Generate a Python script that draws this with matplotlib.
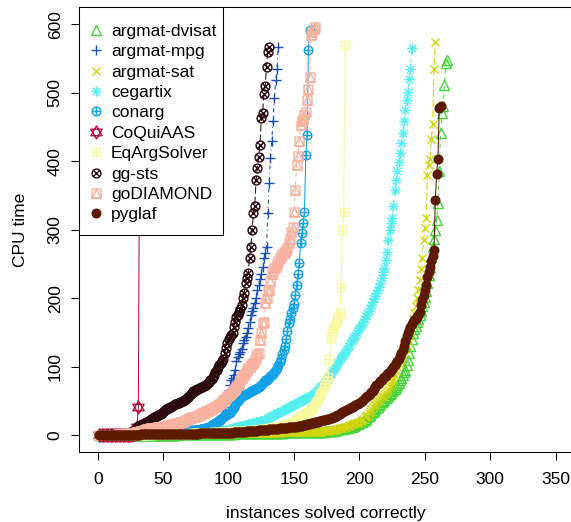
import numpy as np
import matplotlib
matplotlib.use('Agg')
import matplotlib.pyplot as plt
from matplotlib.path import Path
from matplotlib.lines import Line2D
from matplotlib.patches import Rectangle

plt.rcParams['font.family'] = ['Liberation Sans', 'DejaVu Sans']

# ---------------- data (CPU time of each correctly solved instance, sorted) -------------
solvers = ['argmat-dvisat', 'argmat-mpg', 'argmat-sat', 'cegartix', 'conarg',
           'CoQuiAAS', 'EqArgSolver', 'gg-sts', 'goDIAMOND', 'pyglaf']

argmat_dvisat = [
    0.0, 0.0, 0.0, 0.1, 0.1, 0.1, 0.1, 0.1, 0.1, 0.1,
    0.1, 0.1, 0.2, 0.2, 0.2, 0.2, 0.2, 0.2, 0.2, 0.2,
    0.3, 0.3, 0.3, 0.3, 0.3, 0.3, 0.3, 0.4, 0.4, 0.4,
    0.4, 0.4, 0.4, 0.5, 0.5, 0.5, 0.5, 0.5, 0.6, 0.6,
    0.6, 0.6, 0.6, 0.7, 0.7, 0.7, 0.7, 0.8, 0.8, 0.8,
    0.8, 0.9, 0.9, 0.9, 1.0, 1.0, 1.0, 1.0, 1.1, 1.1,
    1.1, 1.2, 1.2, 1.2, 1.2, 1.3, 1.3, 1.3, 1.4, 1.4,
    1.4, 1.5, 1.5, 1.5, 1.6, 1.6, 1.6, 1.7, 1.7, 1.7,
    1.8, 1.8, 1.8, 1.9, 1.9, 1.9, 2.0, 2.0, 2.0, 2.1,
    2.1, 2.2, 2.2, 2.2, 2.3, 2.3, 2.3, 2.4, 2.4, 2.5,
    2.5, 2.5, 2.6, 2.6, 2.7, 2.7, 2.7, 2.8, 2.8, 2.9,
    2.9, 2.9, 3.0, 3.0, 3.1, 3.1, 3.1, 3.2, 3.2, 3.3,
    3.3, 3.3, 3.4, 3.4, 3.5, 3.5, 3.5, 3.6, 3.6, 3.7,
    3.7, 3.7, 3.8, 3.8, 3.9, 3.9, 3.9, 4.0, 4.0, 4.1,
    4.1, 4.1, 4.2, 4.2, 4.3, 4.3, 4.3, 4.4, 4.4, 4.5,
    4.5, 4.5, 4.6, 4.6, 4.6, 4.7, 4.7, 4.7, 4.8, 4.8,
    4.8, 4.8, 4.9, 4.9, 4.9, 4.9, 4.9, 5.0, 5.0, 5.0,
    5.0, 5.2, 5.4, 5.6, 5.8, 6.0, 6.2, 6.4, 6.6, 6.8,
    7.0, 7.4, 7.8, 8.2, 8.6, 9.0, 9.4, 9.8, 10.2, 10.6,
    11, 11.5, 12, 12.5, 13, 14, 15, 16, 17, 18,
    19, 20, 21, 22, 24, 26, 28, 30, 32, 34,
    36, 38, 40, 42, 44, 46, 48, 50, 52, 54,
    56, 58, 60, 62, 64, 66, 68, 70, 73, 77,
    81, 84, 88, 92, 96, 102, 110, 120, 130, 140,
    150, 155, 160, 165, 170, 176, 182, 188, 195, 202,
    210, 222, 234, 246, 260, 275, 287, 300, 314, 339,
    385, 441, 470, 480, 511, 543, 548]

argmat_mpg = [
    0.1, 0.1, 0.1, 0.2, 0.2, 0.2, 0.3, 0.3, 0.3, 0.4,
    0.4, 0.4, 0.5, 0.5, 0.5, 0.6, 0.6, 0.7, 0.7, 0.8,
    0.8, 0.9, 0.9, 1.0, 1.0, 1.1, 1.1, 1.2, 1.2, 1.3,
    1.4, 1.4, 1.5, 1.5, 1.6, 1.7, 1.8, 1.9, 2.0, 2.1,
    2.2, 2.3, 2.4, 2.5, 2.6, 2.7, 2.8, 3.0, 3.1, 3.2,
    3.4, 3.5, 3.6, 3.8, 4.0, 4.2, 4.4, 4.6, 4.8, 5.0,
    5.2, 5.4, 5.6, 5.8, 6.0, 6.2, 6.4, 6.6, 6.8, 7.0,
    7.2, 7.4, 7.6, 7.8, 8.0, 8.2, 8.4, 8.6, 8.8, 9.0,
    9.3, 9.6, 10, 10.5, 11, 11.5, 12, 13, 14, 15,
    16, 17, 18, 22, 28, 36, 42, 50, 58, 66,
    74, 80, 84, 88, 96, 108, 114, 118, 122, 126,
    134, 139, 144, 150, 156, 166, 176, 182, 186, 193,
    200, 212, 220, 228, 236, 246, 258, 266, 275, 324,
    368, 404, 430, 458, 492, 518, 535, 567]

argmat_sat = [
    0.0, 0.0, 0.1, 0.1, 0.1, 0.1, 0.1, 0.1, 0.1, 0.1,
    0.1, 0.1, 0.1, 0.2, 0.2, 0.2, 0.2, 0.2, 0.2, 0.2,
    0.2, 0.3, 0.3, 0.3, 0.3, 0.3, 0.3, 0.3, 0.4, 0.4,
    0.4, 0.4, 0.4, 0.4, 0.5, 0.5, 0.5, 0.5, 0.5, 0.6,
    0.6, 0.6, 0.6, 0.6, 0.7, 0.7, 0.7, 0.7, 0.8, 0.8,
    0.8, 0.8, 0.9, 0.9, 0.9, 1.0, 1.0, 1.0, 1.1, 1.1,
    1.1, 1.2, 1.2, 1.2, 1.3, 1.3, 1.3, 1.4, 1.4, 1.4,
    1.5, 1.5, 1.5, 1.6, 1.6, 1.6, 1.7, 1.7, 1.7, 1.8,
    1.8, 1.8, 1.9, 1.9, 2.0, 2.0, 2.0, 2.1, 2.1, 2.2,
    2.2, 2.2, 2.3, 2.3, 2.4, 2.4, 2.4, 2.5, 2.5, 2.6,
    2.6, 2.6, 2.7, 2.7, 2.8, 2.8, 2.8, 2.9, 2.9, 3.0,
    3.0, 3.0, 3.1, 3.1, 3.2, 3.2, 3.2, 3.3, 3.3, 3.4,
    3.4, 3.4, 3.5, 3.5, 3.6, 3.6, 3.6, 3.7, 3.7, 3.8,
    3.8, 3.8, 3.9, 3.9, 4.0, 4.0, 4.0, 4.1, 4.1, 4.2,
    4.2, 4.2, 4.3, 4.3, 4.4, 4.4, 4.4, 4.5, 4.5, 4.6,
    4.6, 4.6, 4.7, 4.7, 4.7, 4.8, 4.8, 4.8, 4.9, 4.9,
    4.9, 5.0, 5.0, 5.0, 5.0, 5.1, 5.1, 5.1, 5.1, 5.2,
    5.3, 5.6, 5.9, 6.2, 6.5, 6.8, 7.1, 7.4, 7.7, 8.0,
    8.4, 8.8, 9.2, 9.6, 10, 10.5, 11, 11.5, 12, 12.5,
    13, 14, 15, 16, 17, 17.5, 18, 18.5, 19, 20,
    21, 22, 24, 26, 28, 30, 33, 36, 39, 42,
    44, 46, 48, 50, 52, 54, 56, 58, 60, 62,
    64, 67, 70, 74, 78, 82, 88, 94, 100, 104,
    108, 112, 116, 120, 126, 132, 138, 145, 152, 162,
    170, 178, 188, 200, 212, 226, 242, 258, 285, 302,
    317, 380, 395, 403, 433, 454, 535, 574]

cegartix = [
    0.1, 0.1, 0.1, 0.1, 0.2, 0.2, 0.2, 0.2, 0.2, 0.3,
    0.3, 0.3, 0.3, 0.3, 0.4, 0.4, 0.4, 0.4, 0.5, 0.5,
    0.5, 0.5, 0.6, 0.6, 0.6, 0.7, 0.7, 0.7, 0.8, 0.8,
    0.8, 0.9, 0.9, 1.0, 1.0, 1.0, 1.1, 1.1, 1.2, 1.2,
    1.3, 1.3, 1.4, 1.4, 1.5, 1.5, 1.6, 1.6, 1.7, 1.7,
    1.8, 1.9, 2.0, 2.0, 2.1, 2.2, 2.3, 2.4, 2.5, 2.6,
    2.7, 2.8, 2.9, 3.0, 3.1, 3.2, 3.3, 3.4, 3.5, 3.6,
    3.7, 3.8, 3.9, 4.0, 4.1, 4.2, 4.3, 4.4, 4.5, 4.6,
    4.8, 5.0, 5.2, 5.4, 5.6, 5.8, 6.0, 6.2, 6.4, 6.6,
    6.8, 7.0, 7.2, 7.4, 7.6, 7.8, 8.0, 8.2, 8.4, 8.6,
    9.0, 9.5, 10, 10.5, 11, 11.5, 12, 12.5, 13, 13.5,
    14, 14.5, 15, 15.5, 16, 16.5, 17, 17.5, 18, 18.5,
    19, 19.5, 20, 20.5, 21, 21.5, 22, 23, 24, 25,
    26, 27, 28, 29, 30, 31, 32, 33, 34, 35,
    36, 37, 38, 39, 40, 41, 42, 43, 44, 45,
    46, 47, 48, 49, 50, 51, 52, 53, 54, 55,
    56, 57, 58, 59, 60, 62, 64, 66, 68, 70,
    72, 74, 76, 78, 80, 83, 86, 89, 92, 95,
    98, 101, 104, 107, 110, 113, 116, 119, 122, 125,
    128, 131, 134, 137, 140, 143, 146, 150, 154, 157,
    160, 163, 166, 170, 174, 178, 182, 186, 190, 195,
    200, 204, 208, 212, 216, 222, 230, 238, 244, 256,
    268, 285, 300, 310, 317, 334, 358, 372, 385, 399,
    412, 426, 441, 458, 475, 489, 501, 520, 534, 565]

conarg = [
    0.1, 0.1, 0.1, 0.2, 0.2, 0.2, 0.2, 0.3, 0.3, 0.3,
    0.3, 0.4, 0.4, 0.4, 0.5, 0.5, 0.5, 0.6, 0.6, 0.6,
    0.7, 0.7, 0.8, 0.8, 0.9, 0.9, 1.0, 1.0, 1.1, 1.1,
    1.2, 1.2, 1.3, 1.3, 1.4, 1.4, 1.5, 1.5, 1.6, 1.7,
    1.8, 1.9, 2.0, 2.1, 2.2, 2.3, 2.4, 2.5, 2.6, 2.7,
    2.8, 3.0, 3.2, 3.4, 3.6, 3.8, 4.0, 4.2, 4.4, 4.6,
    4.8, 5.0, 5.2, 5.4, 5.6, 5.8, 6.0, 6.2, 6.4, 6.6,
    6.8, 7.0, 7.2, 7.4, 7.6, 7.8, 8.0, 8.4, 8.8, 9.2,
    9.6, 10, 10.5, 11, 12, 13, 14.5, 16, 17, 18.5,
    20, 21, 22, 23.5, 25, 26.5, 28, 29.5, 31, 32,
    33, 35, 38, 41, 44, 47, 50, 53, 55, 57,
    58, 59, 60, 61, 62, 63, 64, 65, 66, 67,
    68, 69, 70, 72, 74, 76, 78, 80, 81, 82,
    84, 86, 88, 90, 92, 95, 98, 102, 107, 112,
    118, 124, 130, 140, 152, 164, 170, 178, 186, 192,
    205, 219, 235, 251, 280, 295, 310, 326, 409, 438,
    562, 591]

coquiaas = [
    0.1, 0.1, 0.1, 0.2, 0.2, 0.2, 0.2, 0.3, 0.3, 0.3,
    0.3, 0.4, 0.4, 0.4, 0.5, 0.5, 0.5, 0.6, 0.6, 0.7,
    0.7, 0.8, 0.8, 0.9, 1.0, 1.1, 1.2, 1.4, 1.6, 12,
    42, 450]

eqargsolver = [
    0.0, 0.1, 0.1, 0.1, 0.1, 0.1, 0.1, 0.2, 0.2, 0.2,
    0.2, 0.2, 0.2, 0.3, 0.3, 0.3, 0.3, 0.3, 0.4, 0.4,
    0.4, 0.4, 0.5, 0.5, 0.5, 0.5, 0.6, 0.6, 0.6, 0.7,
    0.7, 0.7, 0.8, 0.8, 0.8, 0.9, 0.9, 1.0, 1.0, 1.0,
    1.1, 1.1, 1.2, 1.2, 1.3, 1.3, 1.4, 1.4, 1.5, 1.5,
    1.6, 1.6, 1.7, 1.7, 1.8, 1.8, 1.9, 1.9, 2.0, 2.0,
    2.1, 2.1, 2.2, 2.2, 2.3, 2.3, 2.4, 2.5, 2.5, 2.6,
    2.7, 2.7, 2.8, 2.9, 3.0, 3.0, 3.1, 3.2, 3.3, 3.4,
    3.5, 3.6, 3.7, 3.8, 3.9, 4.0, 4.1, 4.2, 4.3, 4.4,
    4.5, 4.6, 4.7, 4.8, 4.9, 5.0, 5.1, 5.2, 5.3, 5.4,
    5.5, 5.6, 5.7, 5.8, 5.9, 6.0, 6.1, 6.2, 6.3, 6.4,
    6.5, 6.6, 6.7, 6.8, 6.9, 7.0, 7.2, 7.4, 7.6, 7.8,
    8.0, 8.2, 8.4, 8.6, 8.8, 9.0, 9.3, 9.6, 9.9, 10.2,
    10.5, 10.8, 11.1, 11.4, 11.7, 12.0, 12.3, 12.6, 12.9, 13.2,
    13.6, 14.2, 14.8, 15.4, 16, 16.8, 17.6, 18.4, 19.2, 20,
    21, 22, 23.5, 25, 27, 28, 29, 30, 31, 32,
    34, 36, 38, 40, 42, 45, 48, 52, 56, 60,
    63, 66, 70, 75, 81, 85, 111, 141, 149, 156,
    160, 164, 168, 174, 178, 217, 300, 326, 570]

gg_sts = [
    0.1, 0.1, 0.2, 0.2, 0.3, 0.3, 0.4, 0.5, 0.5, 0.6,
    0.7, 0.8, 0.9, 1.0, 1.1, 1.3, 1.5, 1.7, 2.0, 2.3,
    2.6, 3.0, 3.4, 3.9, 4.5, 5.2, 6.0, 7.5, 9.5, 12,
    13, 14, 15, 16, 17, 18, 19, 20, 21, 22.5,
    24, 25, 26, 27, 28, 29, 30, 31, 32.5, 34,
    36, 38, 39, 40, 41, 42, 43, 44, 45, 46,
    47, 47.5, 48, 49, 50, 51, 52, 54, 56, 58,
    60, 62, 64, 65, 66, 67, 68, 69, 70, 71,
    72, 73, 74, 76, 78, 80, 82, 85, 88, 92,
    96, 99, 102, 105, 108, 112, 120, 128, 135, 140,
    144, 147, 150, 158, 166, 172, 176, 180, 185, 190,
    200, 208, 222, 230, 237, 259, 275, 300, 324, 334,
    373, 390, 406, 424, 463, 470, 498, 510, 538, 560,
    566]

godiamond = [
    0.1, 0.2, 0.2, 0.3, 0.3, 0.4, 0.4, 0.5, 0.5, 0.6,
    0.7, 0.8, 0.9, 1.0, 1.1, 1.2, 1.3, 1.5, 1.7, 1.9,
    2.1, 2.3, 2.5, 2.8, 3.1, 3.4, 3.7, 4.0, 4.5, 5.0,
    5.5, 6.0, 6.5, 7.0, 7.5, 8.0, 8.5, 9.0, 9.5, 10,
    10.3, 10.6, 10.9, 11.2, 11.5, 11.8, 12.0, 12.2, 12.4, 12.6,
    13, 13.5, 14, 14.5, 15, 15.5, 16, 16.5, 17, 17.5,
    18, 18.5, 19, 19.5, 20, 21, 22, 23, 24, 25,
    25.5, 26, 26.5, 27, 27.5, 28, 29, 30, 31, 32,
    33, 34, 35, 36, 37, 38, 39, 40, 41, 42,
    43, 44, 45, 47, 49, 51, 53, 55, 57, 59,
    61, 62, 64, 66, 68, 71, 74, 77, 80, 83,
    86, 89, 92, 95, 98, 100, 102, 104, 106, 110,
    114, 118, 120, 139, 150, 164, 166, 193, 200, 210,
    212, 225, 236, 240, 244, 246, 250, 254, 258, 262,
    264, 266, 268, 270, 274, 280, 287, 296, 304, 326,
    358, 395, 407, 430, 453, 458, 462, 467, 472, 489,
    506, 523, 584, 589, 593, 596]

pyglaf = [
    0.1, 0.1, 0.2, 0.2, 0.2, 0.3, 0.3, 0.3, 0.4, 0.4,
    0.4, 0.5, 0.5, 0.5, 0.6, 0.6, 0.6, 0.7, 0.7, 0.7,
    0.8, 0.8, 0.8, 0.9, 0.9, 0.9, 1.0, 1.0, 1.0, 1.1,
    1.1, 1.1, 1.2, 1.2, 1.2, 1.3, 1.3, 1.3, 1.4, 1.4,
    1.4, 1.5, 1.5, 1.5, 1.6, 1.6, 1.6, 1.7, 1.7, 1.7,
    1.8, 1.8, 1.8, 1.9, 1.9, 1.9, 2.0, 2.0, 2.0, 2.1,
    2.1, 2.1, 2.2, 2.2, 2.2, 2.3, 2.3, 2.3, 2.4, 2.4,
    2.4, 2.5, 2.5, 2.5, 2.6, 2.6, 2.6, 2.7, 2.7, 2.7,
    2.8, 2.8, 2.8, 2.9, 2.9, 2.9, 3.0, 3.0, 3.0, 3.1,
    3.1, 3.1, 3.2, 3.2, 3.3,
    3.4, 3.5, 3.6, 3.7, 3.8, 3.9, 4.0, 4.1, 4.2, 4.2,
    4.3, 4.5, 4.6, 4.8, 5.0, 5.1, 5.3, 5.5, 5.7, 5.8,
    6.0, 6.1, 6.2, 6.4, 6.6, 6.8, 7.0, 7.1, 7.3, 7.4,
    7.6, 7.8, 8.0, 8.2, 8.4, 8.6, 8.8, 9.0, 9.2, 9.4,
    9.5, 9.7, 9.9, 10.1, 10.3, 10.5, 10.7, 10.9, 11.1, 11.3,
    11.5, 11.7, 11.9, 12.1, 12.3, 12.5, 12.7, 12.9, 13.2, 13.5,
    14, 14.5, 15, 15.5, 16, 16.5, 17, 17.5, 18, 18.5,
    19, 19.5, 20, 20.5, 21, 21.5, 22, 22.5, 23, 23.5,
    24, 24.5, 25, 25.5, 26, 27, 28, 29, 30, 31.5,
    33, 34, 35, 36, 37, 38, 39, 40, 41, 42,
    43, 44, 45, 46, 47, 48, 50, 52, 54, 56,
    57, 59, 61, 63, 65, 67, 70, 73, 75, 77,
    79, 81, 83, 85, 87, 89, 91, 93, 95, 97,
    100, 103, 106, 109, 112, 116, 120, 125, 130, 137,
    145, 150, 154, 158, 162, 165, 168, 170, 172, 175,
    180, 190, 197, 205, 212, 220, 231, 238, 246, 254,
    261, 270, 343, 382, 403, 478, 480]

series = [argmat_dvisat, argmat_mpg, argmat_sat, cegartix, conarg,
          coquiaas, eqargsolver, gg_sts, godiamond, pyglaf]

x_ticks = [0, 50, 100, 150, 200, 250, 300, 350]
y_ticks = [0, 100, 200, 300, 400, 500, 600]

# ---------------- styles ----------------
colors = ['#46d43a', '#1f4fb4', '#d2d40e', '#55eeee', '#12a0e6',
          '#b3123e', '#f8f8a0', '#2b0a0e', '#f7b2a0', '#5c1a00']


def seg_path(pairs):
    verts, codes = [], []
    for a, b in pairs:
        verts += [a, b]
        codes += [Path.MOVETO, Path.LINETO]
    return Path(verts, codes)


def poly(pts):
    return Path(pts + [pts[0]], [Path.MOVETO] + [Path.LINETO] * (len(pts) - 1) + [Path.CLOSEPOLY])


d = 0.7071
plus_l = seg_path([((-1, 0), (1, 0)), ((0, -1), (0, 1))])
x_l = seg_path([((-d, -d), (d, d)), ((-d, d), (d, -d))])
circle = Path.unit_circle()
square = poly([(-1, -1), (1, -1), (1, 1), (-1, 1)])
m_aster = Path.make_compound_path(plus_l, x_l)
m_cplus = Path.make_compound_path(circle, plus_l)
m_cx = Path.make_compound_path(circle, x_l)
m_splus = Path.make_compound_path(square, plus_l)
m_stri = Path.make_compound_path(square, poly([(-1, -1), (1, -1), (0, 1)]))
m_star = Path.make_compound_path(poly([(0, 1), (-0.866, -0.5), (0.866, -0.5)]),
                                  poly([(0, -1), (-0.866, 0.5), (0.866, 0.5)]))

markers = ['^', '+', 'x', m_aster, m_cplus, m_star, m_splus, m_cx, m_stri, 'o']
msizes = [6.6, 7.6, 6.0, 7.6, 6.2, 9.4, 6.4, 6.4, 6.4, 6.2]
lstyles = [(0, (4, 4)), (0, (1, 3, 4, 3)), (0, (7, 3)), (0, (4, 4)), '-',
           '-', '-', (0, (7, 3)), (0, (4, 4)), '-']

fig = plt.figure(figsize=(5.71, 5.22), dpi=100)
W, H = 571, 522
ax = fig.add_axes([79.3 / W, (H - 451.7) / H, (571.5 - 79.3) / W, (451.7 - 7.3) / H])

handles = []
for name, y, col, mk, ms, ls in zip(solvers, series, colors, markers, msizes, lstyles):
    x = np.arange(1, len(y) + 1)
    fc = col if name == 'pyglaf' else 'none'
    ax.plot(x, y, color=col, lw=0.75, ls=ls, marker=mk, ms=ms, mfc=fc, mec=col, mew=1.0)
    handles.append(Line2D([], [], ls='none', marker=mk, ms=ms, mfc=fc, mec=col, mew=1.0))

ax.set_xlim(-14.1, 362.1)
ax.set_ylim(-23.9, 624.5)
ax.set_xticks(x_ticks)
ax.set_yticks(y_ticks)
ax.tick_params(axis='both', direction='out', length=6, width=0.75, labelsize=12.5, colors='black')
ax.tick_params(axis='x', pad=8.5)
ax.tick_params(axis='y', pad=6)
for lab in ax.get_yticklabels():
    lab.set_rotation(90)
    lab.set_va('center')
for s in ax.spines.values():
    s.set_linewidth(0.75)

ax.set_xlabel('instances solved correctly', fontsize=12.5, labelpad=14)
ax.set_ylabel('CPU time', fontsize=12.5, labelpad=14)

# legend box (white frame in the top-left corner of the plot region)
box = Rectangle((79.3 / W, 1 - 235 / H), (223 - 79.3) / W, (235 - 7.3) / H,
                transform=fig.transFigure, facecolor='white', edgecolor='black',
                linewidth=0.75, zorder=4.9, clip_on=False)
ax.add_artist(box)
leg = ax.legend(handles, solvers, loc='upper left', bbox_to_anchor=(87.3 / W, 1 - 23.9 / H),
                bbox_transform=fig.transFigure, borderaxespad=0, borderpad=0, frameon=False,
                fontsize=12.5, handlelength=1.0, handletextpad=0.36, labelspacing=0.3)
leg.set_zorder(5)

fig.savefig('out.png', dpi=100)
